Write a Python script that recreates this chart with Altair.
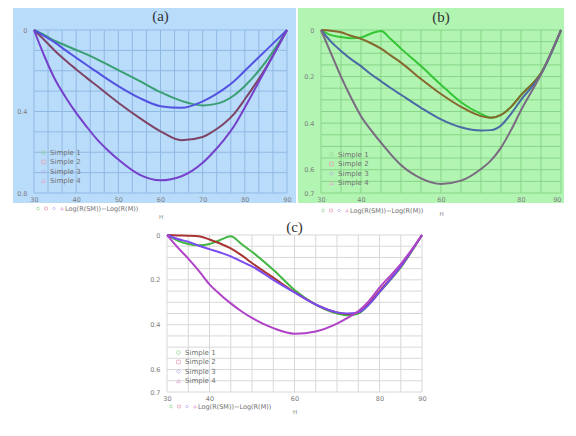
import altair as alt
import pandas as pd

X = [30, 32.5, 35, 37.5, 40, 42.5, 45, 47.5, 50, 55, 60, 65, 70, 72.5, 75, 77.5, 80, 85, 90]
SERIES = ["Simple 1", "Simple 2", "Simple 3", "Simple 4"]
TITLES = ["(a)", "(b)", "(c)"]

# panel (a)
A_S1 = [0, .025, .054, .076, .098, .12, .144, .17, .197, .25, .305, .348, .37, .365, .35, .32, .275, .155, 0]
A_S2 = [0, .05, .103, .15, .193, .235, .275, .317, .357, .431, .497, .541, .525, .497, .46, .41, .34, .185, 0]
A_S3 = [0, .03, .062, .1, .136, .172, .207, .242, .275, .333, .374, .382, .35, .323, .29, .25, .2, .1, 0]
A_S4 = [0, .13, .243, .33, .407, .475, .538, .59, .636, .71, .738, .718, .652, .6, .54, .47, .38, .19, 0]
# panel (b)
B_S1 = [0, .022, .03, .035, .032, .015, .004, .04, .08, .155, .235, .31, .36, .377, .365, .33, .28, .185, 0]
B_S2 = [0, .003, .01, .025, .038, .057, .08, .11, .14, .21, .275, .33, .37, .377, .365, .33, .28, .185, 0]
B_S3 = [0, .05, .09, .125, .155, .19, .22, .25, .278, .334, .384, .418, .432, .43, .41, .36, .3, .19, 0]
B_S4 = [0, .1, .2, .29, .37, .43, .484, .535, .58, .637, .661, .647, .597, .56, .505, .43, .345, .19, 0]
# panel (c)
C_S1 = [0, .025, .04, .046, .04, .022, .006, .04, .075, .155, .245, .31, .35, .358, .35, .31, .255, .145, 0]
C_S2 = [0, .002, .003, .006, .02, .038, .06, .09, .125, .19, .255, .31, .345, .352, .345, .305, .25, .14, 0]
C_S3 = [0, .018, .03, .048, .063, .078, .095, .118, .14, .2, .256, .31, .345, .35, .345, .31, .255, .14, 0]
C_S4 = [0, .055, .105, .16, .22, .265, .305, .34, .37, .415, .44, .43, .395, .37, .34, .295, .235, .13, 0]

A_XGRID = [30, 33.33, 36.67, 40, 43.33, 46.67, 50, 53.33, 56.67, 60, 63.33, 66.67, 70, 73.33, 76.67, 80, 83.33, 86.67, 90]
A_XLABELS = [30, 40, 50, 60, 70, 80, 90]
A_YGRID = [0, 0.1, 0.2, 0.3, 0.4, 0.5, 0.6, 0.7, 0.8]
A_YLABELS = [0, 0.4, 0.8]
BC_XGRID = [30, 35, 40, 45, 50, 55, 60, 65, 70, 75, 80, 85, 90]
BC_XLABELS = [30, 40, 60, 80, 90]
BC_YGRID = [0, 0.05, 0.1, 0.15, 0.2, 0.25, 0.3, 0.35, 0.4, 0.45, 0.5, 0.55, 0.6, 0.65, 0.7]
BC_YLABELS = [0, 0.2, 0.4, 0.6, 0.7]

SHAPES = ["circle", "square", "diamond", "triangle-up"]
SYMBOL_COLORS = ["#96d596", "#e8a2b4", "#b6a6ee", "#e6a6d2"]
XTITLE = "Log(R(SM))\u2212Log(R(M))"
FONT = "DejaVu Sans"


def make_df(vals):
    rows = []
    for name, ys in zip(SERIES, vals):
        for x, y in zip(X, ys):
            rows.append({"x": x, "v": y, "series": name})
    return pd.DataFrame(rows)


def panel(letter, vals, colors, ymax, xgrid, xlabels, ygrid, ylabels, bg, grid,
          rect, leg_in, leg_bot, w, h, hpad, ty, right_last=False, spacer=None):
    df = make_df(vals)
    lab_align = "center"
    if right_last:
        lab_align = {"condition": {"test": "datum.value == 90", "value": "right"}, "value": "center"}
    xscale = alt.Scale(domain=[30, 90], nice=False, zero=False)
    yscale = alt.Scale(domain=[0, ymax], nice=False, zero=False, reverse=True)
    xaxis = alt.Axis(values=xlabels, format=".2~f", ticks=False, domain=False, grid=False,
                     labelFont=FONT, labelFontSize=6.5, labelColor="#7d7d7d",
                     labelPadding=3, labelFlush=False, labelOverlap=False, labelAlign=lab_align,
                     title="H", titleFont=FONT, titleFontSize=5.5,
                     titleFontWeight="normal", titleColor="#777777",
                     titlePadding=hpad, zindex=1)
    yaxis = alt.Axis(values=ylabels, format=".2~f", ticks=False, domain=False, grid=False,
                     labelFont=FONT, labelFontSize=6.5, labelColor="#7d7d7d",
                     labelPadding=7, labelFlush=False, labelOverlap=False,
                     title=None, zindex=1)
    xenc = alt.X("x:Q", scale=xscale, axis=xaxis)
    yenc = alt.Y("v:Q", scale=yscale, axis=yaxis)

    vgrid = alt.Chart(pd.DataFrame({"x": xgrid})).mark_rule(color=grid, strokeWidth=1).encode(x=xenc)
    hgrid = alt.Chart(pd.DataFrame({"v": ygrid})).mark_rule(color=grid, strokeWidth=1).encode(y=yenc)

    base = alt.Chart(df)
    lines = base.mark_line(interpolate="monotone", strokeWidth=2).encode(
        x=xenc, y=yenc,
        color=alt.Color("series:N", scale=alt.Scale(domain=SERIES, range=colors), legend=None),
        detail="series:N",
    )
    legA = alt.Legend(orient="none", legendX=leg_in[0], legendY=leg_in[1], title=None,
                      labelFont=FONT, labelFontSize=7, labelColor="#707070",
                      symbolSize=14, symbolStrokeWidth=0.8, symbolOpacity=0.9,
                      rowPadding=1.5, labelOffset=3, padding=0)
    legB = alt.Legend(orient="none", legendX=leg_bot[0], legendY=leg_bot[1], title=XTITLE,
                      titleOrient="right", titleFont=FONT, titleFontSize=6.5,
                      titleFontWeight="normal", titleColor="#707070", titlePadding=0,
                      direction="horizontal", labelExpr="''", labelFontSize=1, labelOffset=0,
                      columnPadding=0, symbolSize=8, symbolStrokeWidth=0.8,
                      symbolOpacity=0.9, padding=0)
    ptsA = base.mark_point(opacity=0, filled=False).encode(
        x=xenc, y=yenc,
        color=alt.Color("series:N", scale=alt.Scale(domain=SERIES, range=SYMBOL_COLORS), legend=legA),
        shape=alt.Shape("series:N", scale=alt.Scale(domain=SERIES, range=SHAPES), legend=legA),
    )
    ptsB = base.mark_point(opacity=0, filled=False).encode(
        x=xenc, y=yenc,
        color=alt.Color("series:N", scale=alt.Scale(domain=SERIES, range=SYMBOL_COLORS), legend=legB),
        shape=alt.Shape("series:N", scale=alt.Scale(domain=SERIES, range=SHAPES), legend=legB),
    )
    title = alt.Chart(alt.Data(values=[{"t": letter}])).mark_text(
        font="Liberation Serif", fontSize=15, color="#333333", baseline="middle", align="center"
    ).encode(text="t:N", x=alt.value(w / 2), y=alt.value(ty))

    layers = []
    if rect is not None:
        bgr = alt.Chart(alt.Data(values=[{}])).mark_rect(color=bg).encode(
            x=alt.value(rect[0]), x2=alt.value(rect[1]),
            y=alt.value(rect[2]), y2=alt.value(rect[3]))
        layers.append(bgr)
    if spacer is not None:
        sp = alt.Chart(alt.Data(values=[{}])).mark_rect(opacity=0, color="#ffffff").encode(
            x=alt.value(spacer[0]), x2=alt.value(spacer[1]),
            y=alt.value(spacer[2]), y2=alt.value(spacer[3]))
        layers.append(sp)
    layers += [vgrid, hgrid, lines, ptsA, ptsB, title]
    return alt.layer(*layers).resolve_scale(color="independent", shape="independent").properties(
        width=w, height=h)


pa = panel(TITLES[0], [A_S1, A_S2, A_S3, A_S4],
           ["#3a9f72", "#7e4466", "#5452e0", "#7440cc"], 0.8,
           A_XGRID, A_XLABELS, A_YGRID, A_YLABELS, "#badcfb", "#90b9e2",
           (-21, 262, -22, 173), (6, 119), (2, 176), 253, 163, 12, -14)
pb = panel(TITLES[1], [B_S1, B_S2, B_S3, B_S4],
           ["#35c535", "#86682e", "#4a6aa6", "#7a6a82"], 0.7,
           BC_XGRID, BC_XLABELS, BC_YGRID, BC_YLABELS, "#b2f5b2", "#88d488",
           (-23, 243, -22, 173), (7, 121), (0, 178), 240, 163, 9, -13, right_last=True)
pc = panel(TITLES[2], [C_S1, C_S2, C_S3, C_S4],
           ["#42b642", "#a83434", "#7a4cf0", "#b042c8"], 0.7,
           BC_XGRID, BC_XLABELS, BC_YGRID, BC_YLABELS, "#ffffff", "#d8d8d8",
           None, (8, 114), (2, 169), 255, 157, 8, -8, spacer=(-56, 265, 0, 10))

top = alt.concat(pa, pb, columns=2, spacing=2, align="each")
chart = alt.concat(top, pc, columns=1, spacing=0, align="each", center=True).properties(
    padding={"left": 5, "top": 0, "right": 0, "bottom": 0}
).configure_view(stroke=None)

chart.save("out.html", embed_options={"renderer": "svg", "actions": False})
